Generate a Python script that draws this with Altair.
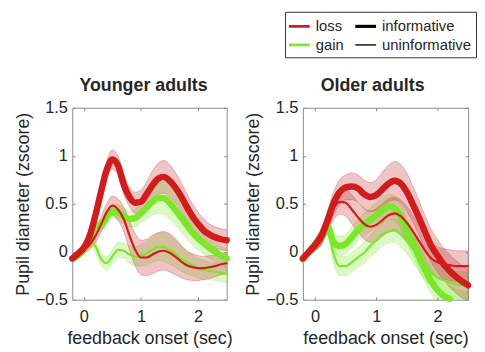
import altair as alt
import pandas as pd

# ---------------- data ----------------
TIME = [-0.2, -0.1, 0.0, 0.1, 0.2, 0.3, 0.4, 0.5, 0.6, 0.7, 0.8, 0.9, 1.0, 1.1,
        1.2, 1.3, 1.4, 1.5, 1.6, 1.7, 1.8, 1.9, 2.0, 2.1, 2.2, 2.3, 2.4, 2.5]

# Younger adults
Y_LOSS_INF = [-0.07, -0.02, 0.04, 0.16, 0.37, 0.62, 0.85, 0.96, 0.9, 0.7, 0.57, 0.51, 0.52, 0.6,
              0.69, 0.76, 0.78, 0.74, 0.67, 0.58, 0.47, 0.37, 0.29, 0.22, 0.18, 0.15, 0.13, 0.12]
Y_LOSS_INF_SE = [0.02, 0.03, 0.04, 0.05, 0.07, 0.08, 0.09, 0.1, 0.1, 0.1, 0.1, 0.11, 0.12, 0.13,
                 0.15, 0.16, 0.17, 0.17, 0.16, 0.15, 0.14, 0.13, 0.12, 0.12, 0.11, 0.11, 0.11, 0.11]
Y_GAIN_INF = [-0.07, -0.04, 0.02, 0.12, 0.27, 0.27, 0.36, 0.42, 0.41, 0.37, 0.34, 0.35, 0.4, 0.46,
              0.52, 0.56, 0.56, 0.51, 0.44, 0.36, 0.28, 0.2, 0.14, 0.09, 0.04, 0.0, -0.04, -0.07]
Y_GAIN_INF_SE = [0.02, 0.03, 0.04, 0.05, 0.06, 0.06, 0.07, 0.07, 0.08, 0.08, 0.08, 0.09, 0.1, 0.12,
                 0.14, 0.16, 0.17, 0.17, 0.16, 0.15, 0.14, 0.13, 0.12, 0.12, 0.11, 0.11, 0.1, 0.1]
Y_LOSS_UNI = [-0.07, -0.03, 0.02, 0.07, 0.16, 0.28, 0.41, 0.48, 0.44, 0.34, 0.17, 0.02, -0.06, -0.06,
              -0.03, 0.0, 0.01, -0.01, -0.05, -0.1, -0.14, -0.16, -0.17, -0.17, -0.16, -0.15, -0.13, -0.12]
Y_LOSS_UNI_SE = [0.02, 0.03, 0.04, 0.05, 0.07, 0.08, 0.09, 0.1, 0.11, 0.13, 0.15, 0.17, 0.18, 0.19,
                 0.2, 0.2, 0.2, 0.2, 0.19, 0.17, 0.15, 0.14, 0.13, 0.12, 0.12, 0.11, 0.11, 0.11]
Y_GAIN_UNI = [-0.07, -0.02, 0.05, 0.1, 0.06, -0.07, -0.12, -0.05, 0.02, 0.01, -0.03, -0.05, -0.04, -0.02,
              0.02, 0.05, 0.05, 0.02, -0.02, -0.07, -0.11, -0.14, -0.17, -0.19, -0.2, -0.21, -0.22, -0.23]
Y_GAIN_UNI_SE = [0.02, 0.03, 0.04, 0.05, 0.06, 0.06, 0.07, 0.07, 0.08, 0.08, 0.09, 0.1, 0.11, 0.12,
                 0.13, 0.14, 0.15, 0.15, 0.14, 0.13, 0.12, 0.11, 0.1, 0.1, 0.09, 0.09, 0.09, 0.09]

# Older adults
O_LOSS_INF = [-0.07, 0.0, 0.07, 0.16, 0.32, 0.5, 0.62, 0.67, 0.68, 0.66, 0.6, 0.57, 0.59, 0.65,
              0.71, 0.74, 0.71, 0.62, 0.49, 0.35, 0.2, 0.06, -0.04, -0.13, -0.2, -0.26, -0.31, -0.35]
O_LOSS_INF_SE = [0.02, 0.04, 0.06, 0.08, 0.1, 0.12, 0.13, 0.13, 0.14, 0.14, 0.15, 0.15, 0.16, 0.18,
                 0.19, 0.2, 0.2, 0.2, 0.19, 0.18, 0.17, 0.17, 0.17, 0.17, 0.17, 0.17, 0.17, 0.17]
O_GAIN_INF = [-0.08, 0.0, 0.07, 0.15, 0.27, 0.1, 0.06, 0.08, 0.15, 0.23, 0.28, 0.33, 0.38, 0.43,
              0.47, 0.45, 0.37, 0.22, 0.09, -0.06, -0.19, -0.31, -0.4, -0.46, -0.49, None, None, None]
O_GAIN_INF_SE = [0.02, 0.04, 0.06, 0.08, 0.1, 0.1, 0.1, 0.1, 0.11, 0.11, 0.12, 0.12, 0.13, 0.13,
                 0.13, 0.13, 0.13, 0.13, 0.13, 0.13, 0.13, 0.13, 0.13, 0.13, 0.13, 0.13, 0.13, 0.13]
O_GAIN_INF_BAND = [-0.08, 0.0, 0.07, 0.15, 0.27, 0.1, 0.06, 0.08, 0.15, 0.23, 0.28, 0.33, 0.38, 0.43,
                   0.47, 0.45, 0.37, 0.22, 0.09, -0.06, -0.19, -0.31, -0.4, -0.46, -0.49, -0.52, -0.54, -0.55]
O_LOSS_UNI = [-0.07, 0.0, 0.07, 0.15, 0.3, 0.45, 0.52, 0.51, 0.44, 0.36, 0.29, 0.26, 0.28, 0.33,
              0.38, 0.4, 0.37, 0.3, 0.21, 0.11, 0.01, -0.07, -0.11, -0.13, -0.14, -0.15, -0.15, -0.15]
O_LOSS_UNI_SE = [0.02, 0.04, 0.06, 0.08, 0.1, 0.12, 0.13, 0.14, 0.15, 0.15, 0.16, 0.16, 0.17, 0.17,
                 0.17, 0.17, 0.17, 0.17, 0.17, 0.16, 0.16, 0.16, 0.16, 0.16, 0.16, 0.16, 0.16, 0.16]
O_GAIN_UNI = [-0.08, 0.0, 0.07, 0.15, 0.26, -0.02, -0.15, -0.15, -0.11, -0.06, -0.01, 0.06, 0.12, 0.18,
              0.21, 0.22, 0.18, 0.11, 0.03, -0.07, -0.15, -0.22, -0.27, -0.3, -0.32, -0.34, -0.35, -0.36]
O_GAIN_UNI_SE = [0.02, 0.04, 0.06, 0.08, 0.09, 0.1, 0.1, 0.1, 0.1, 0.1, 0.11, 0.11, 0.12, 0.12,
                 0.12, 0.12, 0.13, 0.13, 0.14, 0.14, 0.14, 0.14, 0.14, 0.14, 0.14, 0.14, 0.14, 0.14]

X_TICKS = [0, 1, 2]
Y_TICKS = [-0.5, 0, 0.5, 1, 1.5]
# legend fills column by column: loss, gain | informative, uninformative
LEGEND_KEYS = ["loss", "gain", "informative", "uninformative"]

RED = "#D01C1C"
GREEN = "#7CE628"
RED_BAND = "#C83A3A"
GREEN_BAND = "#86EB3C"
LEGEND_COLORS = [RED, GREEN, "#000000", "#000000"]
# swatch shapes (unit symbol space): a bar, thick for informative, thin for uninformative
LEGEND_SHAPES = ["M-1,-0.13H1V0.13H-1Z", "M-1,-0.13H1V0.13H-1Z",
                 "M-1,-0.15H1V0.15H-1Z", "M-1,-0.065H1V0.065H-1Z"]
TXT = "#262626"
AXC = "#8C8C8C"


def build(group, series):
    rows = []
    for outcome, info, mean, se, band in series:
        for i, t in enumerate(TIME):
            bm = band[i]
            rows.append({
                "group": group, "outcome": outcome, "info": info, "t": t,
                "v": mean[i],
                "lo": bm - se[i], "hi": bm + se[i],
            })
    return pd.DataFrame(rows)


young = build("young", [
    ("loss", "informative", Y_LOSS_INF, Y_LOSS_INF_SE, Y_LOSS_INF),
    ("gain", "informative", Y_GAIN_INF, Y_GAIN_INF_SE, Y_GAIN_INF),
    ("loss", "uninformative", Y_LOSS_UNI, Y_LOSS_UNI_SE, Y_LOSS_UNI),
    ("gain", "uninformative", Y_GAIN_UNI, Y_GAIN_UNI_SE, Y_GAIN_UNI),
])
old = build("old", [
    ("loss", "informative", O_LOSS_INF, O_LOSS_INF_SE, O_LOSS_INF),
    ("gain", "informative", O_GAIN_INF, O_GAIN_INF_SE, O_GAIN_INF_BAND),
    ("loss", "uninformative", O_LOSS_UNI, O_LOSS_UNI_SE, O_LOSS_UNI),
    ("gain", "uninformative", O_GAIN_UNI, O_GAIN_UNI_SE, O_GAIN_UNI),
])
legend_df = pd.DataFrame({"key": LEGEND_KEYS, "t": [0.0] * 4, "v": [0.0] * 4})

XS = alt.Scale(domain=[-0.2, 2.5], nice=False, zero=False)
YS = alt.Scale(domain=[-0.5, 1.5], nice=False, zero=False)

AX_X_MAIN = alt.Axis(orient="bottom", values=X_TICKS, format="d", title="feedback onset (sec)",
                     domain=False, grid=False, tickSize=3, offset=-3, labelPadding=9, titlePadding=5)
AX_Y_MAIN = alt.Axis(orient="left", values=Y_TICKS, format="~g", title="Pupil diameter (zscore)",
                     domain=False, grid=False, tickSize=3, offset=-3, labelPadding=5, titlePadding=3)
AX_X_TOP = alt.Axis(orient="top", values=X_TICKS, labels=False, title=None,
                    domain=False, grid=False, tickSize=3, offset=-3)
AX_Y_RIGHT = alt.Axis(orient="right", values=Y_TICKS, labels=False, title=None,
                      domain=False, grid=False, tickSize=3, offset=-3)

LEG = dict(orient="none", legendX=215, legendY=-97, title=None,
           columns=2, symbolSize=441, symbolStrokeWidth=0,
           symbolOpacity=1, labelFontSize=15, labelColor=TXT, labelOffset=6,
           labelExpr="datum.label == 'uninformative' ? 'uninformative\u00a0\u00a0' : datum.label",
           columnPadding=11, rowPadding=0, padding=4, strokeColor="#333333")


def panel(df, title, width, dx, with_legend):
    base = alt.Chart(df)

    def band(outcome, info, color, xa=None, ya=None):
        return base.mark_area(clip=True, fillOpacity=0.3, stroke=color, strokeOpacity=0.45,
                              strokeWidth=0.7, interpolate="monotone", color=color).encode(
            x=alt.X("t:Q", scale=XS, axis=xa),
            y=alt.Y("lo:Q", scale=YS, axis=ya),
            y2="hi:Q",
        ).transform_filter(
            (alt.datum.outcome == outcome) & (alt.datum.info == info)
        )

    def line(outcome, info, color, w):
        return base.mark_line(strokeWidth=w, strokeCap="round", strokeJoin="round",
                              interpolate="monotone", color=color).encode(
            x=alt.X("t:Q", scale=XS, axis=None),
            y=alt.Y("v:Q", scale=YS, axis=None),
        ).transform_filter(
            (alt.datum.outcome == outcome) & (alt.datum.info == info)
        )

    layers = [
        band("gain", "informative", GREEN_BAND, AX_X_MAIN, AX_Y_MAIN),
        band("gain", "uninformative", GREEN_BAND, AX_X_TOP, AX_Y_RIGHT),
        band("loss", "informative", RED_BAND),
        band("loss", "uninformative", RED_BAND),
        line("gain", "informative", GREEN, 6.5),
        line("gain", "uninformative", GREEN, 2.2),
        line("loss", "uninformative", RED, 2.2),
        line("loss", "informative", RED, 6.5),
    ]
    if with_legend:
        leg = alt.Chart(legend_df).mark_point(opacity=0, filled=True).encode(
            x=alt.X("t:Q", scale=XS, axis=None),
            y=alt.Y("v:Q", scale=YS, axis=None),
            color=alt.Color("key:N", scale=alt.Scale(domain=LEGEND_KEYS, range=LEGEND_COLORS),
                            legend=alt.Legend(**LEG)),
            shape=alt.Shape("key:N", scale=alt.Scale(domain=LEGEND_KEYS, range=LEGEND_SHAPES),
                            legend=alt.Legend(**LEG)),
        )
        layers.append(leg)
    return alt.layer(*layers).resolve_axis(x="independent", y="independent").properties(
        width=width, height=194,
        title=alt.TitleParams(title, fontSize=18, fontWeight="bold", color=TXT, offset=5,
                              dx=dx, anchor="middle"),
    )


left = panel(young, "Younger adults", 156, -6, False)
right = panel(old, "Older adults", 167, -13, True)

chart = alt.hconcat(left, right, spacing=10).properties(
    padding={"left": 5, "top": 1, "right": 0, "bottom": 0}
).configure(
    font="Liberation Sans"
).configure_view(
    stroke=AXC, strokeWidth=1
).configure_axis(
    tickColor=AXC, labelColor=TXT, titleColor=TXT, labelFontSize=16.5, titleFontSize=18,
    titleFontWeight="normal", labelFont="Liberation Sans", titleFont="Liberation Sans"
)

chart.save("out.html", embed_options={"renderer": "svg", "actions": False})
